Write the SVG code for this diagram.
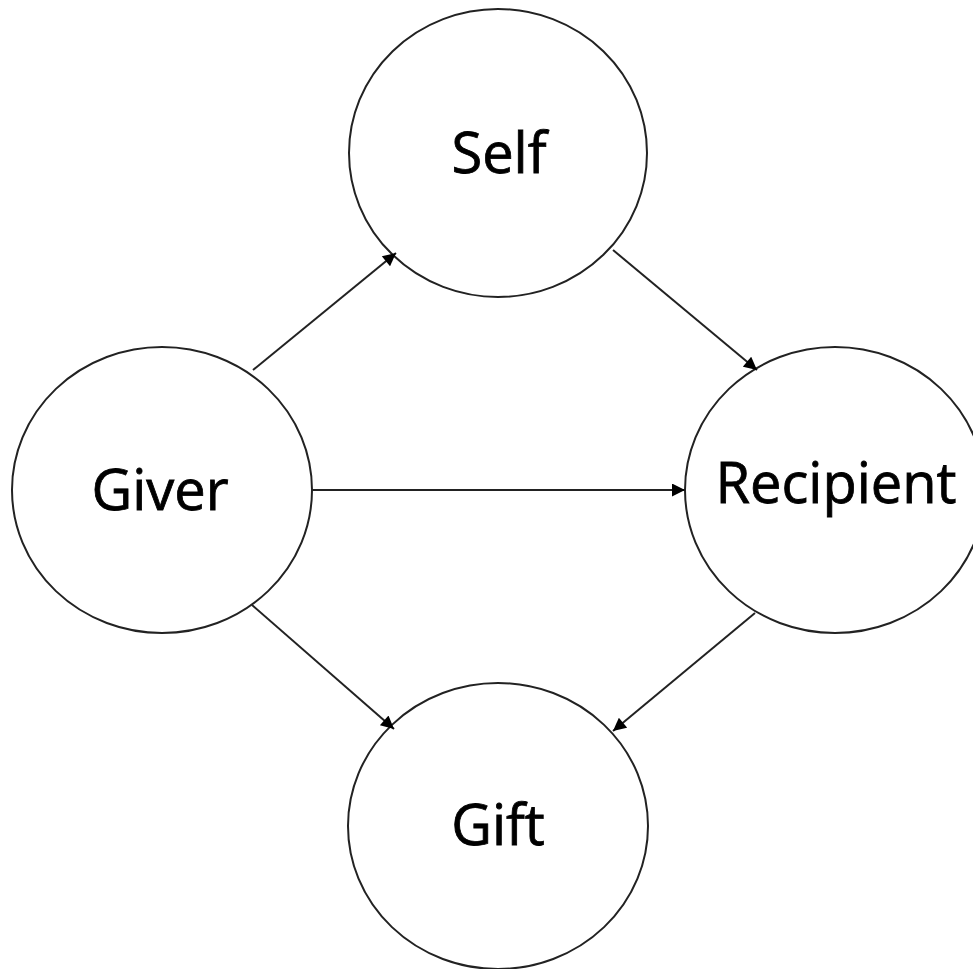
<svg xmlns="http://www.w3.org/2000/svg" width="973" height="969" viewBox="0 0 973 969">
<style>
.node ellipse{fill:#fff;stroke:#222;stroke-width:2}
.node text{font-family:"Open Sans","Noto Sans",sans-serif;font-size:56px;fill:#000;stroke:#000;stroke-width:0.8;text-anchor:middle}
.edge{stroke:#222;stroke-width:2;fill:none;marker-end:url(#arr)}
</style>
<defs>
<marker id="arr" viewBox="0 0 10 10" refX="10" refY="5" markerWidth="7.5" markerHeight="6.5" markerUnits="strokeWidth" orient="auto">
<path d="M0,0 L10,5 L0,10 z" fill="#000"/>
</marker>
</defs>
<rect width="973" height="969" fill="#fff"/>
<g id="self" class="node"><ellipse cx="498" cy="153" rx="149" ry="144"/><text x="499" y="173">Self</text></g>
<g id="giver" class="node"><ellipse cx="162" cy="490" rx="150" ry="143"/><text x="160" y="510">Giver</text></g>
<g id="recipient" class="node"><ellipse cx="835" cy="490" rx="150" ry="143"/><text x="836" y="503">Recipient</text></g>
<g id="gift" class="node"><ellipse cx="498" cy="826" rx="150" ry="143"/><text x="498" y="845">Gift</text></g>
<g id="connectors">
<line class="edge" x1="253" y1="370" x2="396" y2="253"/>
<line class="edge" x1="613" y1="250" x2="757" y2="370"/>
<line class="edge" x1="312" y1="490" x2="685" y2="490"/>
<line class="edge" x1="252" y1="605" x2="394" y2="729"/>
<line class="edge" x1="755" y1="613" x2="613" y2="731"/>
</g>
</svg>
